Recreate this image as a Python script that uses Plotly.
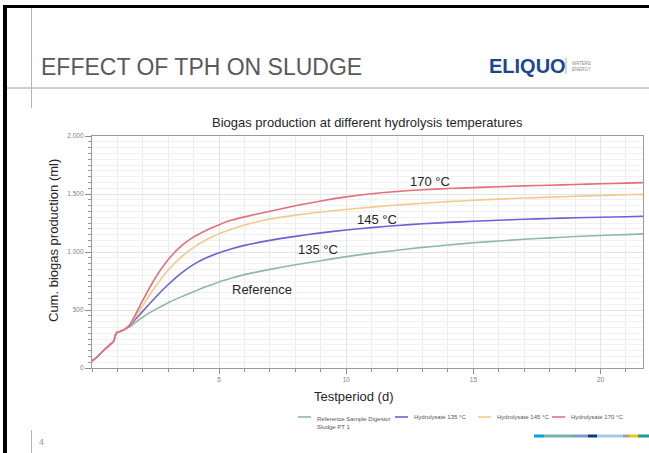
import plotly.graph_objects as go

# ---------------- data ----------------
days = [0, 0.15, 0.4, 0.7, 0.85, 0.95, 1.1, 1.3, 1.5, 2, 2.5, 3, 3.5, 4, 4.5, 5, 5.5, 6,
        7, 8, 9, 10, 11, 12, 13, 14, 15, 16, 17, 18, 19, 20, 21, 21.7]
early = [60, 85, 140, 200, 230, 300, 315, 335]
reference = early + [358, 440, 505, 563, 613, 658, 702, 742, 775, 805,
                     850, 890, 925, 960, 990, 1015, 1040, 1060, 1080, 1095, 1110, 1122, 1133, 1142, 1150, 1157]
hyd135 = early + [370, 490, 610, 720, 815, 893, 950, 993, 1028, 1057,
                  1100, 1135, 1165, 1190, 1210, 1228, 1243, 1255, 1265, 1274, 1282, 1289, 1295, 1300, 1304, 1308]
hyd145 = early + [375, 540, 705, 845, 955, 1040, 1105, 1157, 1198, 1233,
                  1284, 1318, 1345, 1367, 1387, 1405, 1420, 1434, 1446, 1456, 1465, 1473, 1480, 1487, 1493, 1497]
hyd170 = early + [378, 585, 780, 935, 1050, 1130, 1188, 1235, 1275, 1303,
                  1352, 1398, 1440, 1475, 1502, 1522, 1537, 1547, 1555, 1563, 1570, 1576, 1582, 1588, 1594, 1598]

series_names = ["Reference Sample Digestor<br>Sludge PT 1", "Hydrolysate 135 °C",
                "Hydrolysate 145 °C", "Hydrolysate 170 °C"]
series_values = [reference, hyd135, hyd145, hyd170]
series_colors = ["#8dbaa5", "#6b62d8", "#f5c98a", "#e26f7b"]

curve_labels = ["Reference", "135 °C", "145 °C", "170 °C"]
curve_label_x = [6.7, 8.9, 11.2, 13.3]
curve_label_y = [676, 1023, 1278, 1611]

x_ticks = [5, 10, 15, 20]
y_ticks = [0, 500, 1000, 1500, 2000]

# ---------------- geometry helpers ----------------
W, H = 649, 453
L, R, T, B = 92, 643, 136, 368


def px(x):
    return (x - L) / (R - L)


def py(y):
    return (B - y) / (B - T)


fig = go.Figure()
for name, vals, col in zip(series_names, series_values, series_colors):
    fig.add_trace(go.Scatter(x=days, y=vals, mode="lines", name=name,
                             line=dict(color=col, width=1.6, shape="spline", smoothing=0.6),
                             showlegend=False))

ann = []
for t, x, y in zip(curve_labels, curve_label_x, curve_label_y):
    ann.append(dict(x=x, y=y, xref="x", yref="y", text=t, showarrow=False,
                    font=dict(size=13, color="#262626", family="Liberation Sans, Arial")))

# slide title
ann.append(dict(x=px(39), y=py(67), xref="paper", yref="paper", xanchor="left", yanchor="middle",
                text="EFFECT OF TPH ON SLUDGE", showarrow=False,
                font=dict(size=23, color="#595959", family="Liberation Sans, Arial")))
# logo
ann.append(dict(x=px(487), y=py(66), xref="paper", yref="paper", xanchor="left", yanchor="middle",
                text="<b>ELIQUO</b>", showarrow=False,
                font=dict(size=20, color="#1d4690", family="Liberation Sans, Arial")))
ann.append(dict(x=px(570), y=py(66), xref="paper", yref="paper", xanchor="left", yanchor="middle",
                text="WATER&<br>ENERGY", showarrow=False, align="left",
                font=dict(size=4.5, color="#8a8a8a", family="Liberation Sans, Arial")))
# chart title
ann.append(dict(x=px(367), y=py(122), xref="paper", yref="paper", xanchor="center", yanchor="middle",
                text="Biogas production at different hydrolysis temperatures", showarrow=False,
                font=dict(size=13, color="#262626", family="Liberation Sans, Arial")))
# axis titles
ann.append(dict(x=px(53), y=py(241), xref="paper", yref="paper", xanchor="center", yanchor="middle",
                text="Cum. biogas production (ml)", textangle=-90, showarrow=False,
                font=dict(size=13, color="#262626", family="Liberation Sans, Arial")))
ann.append(dict(x=px(353), y=py(396), xref="paper", yref="paper", xanchor="center", yanchor="middle",
                text="Testperiod (d)", showarrow=False,
                font=dict(size=13, color="#262626", family="Liberation Sans, Arial")))
# page number
ann.append(dict(x=px(37), y=py(442), xref="paper", yref="paper", xanchor="left", yanchor="middle",
                text="4", showarrow=False,
                font=dict(size=9, color="#999999", family="Liberation Sans, Arial")))

shapes = []
# slide frame lines
shapes.append(dict(type="rect", xref="paper", yref="paper", x0=px(3), x1=px(7), y0=py(453), y1=py(5),
                   fillcolor="#000000", line=dict(width=0), layer="above"))
shapes.append(dict(type="rect", xref="paper", yref="paper", x0=px(3), x1=px(649), y0=py(8), y1=py(5),
                   fillcolor="#000000", line=dict(width=0), layer="above"))
shapes.append(dict(type="line", xref="paper", yref="paper", x0=px(7), x1=px(649), y0=py(88), y1=py(88),
                   line=dict(color="#a0a0a0", width=1)))
shapes.append(dict(type="line", xref="paper", yref="paper", x0=px(31.5), x1=px(31.5), y0=py(8), y1=py(108),
                   line=dict(color="#b4b4b4", width=1)))
shapes.append(dict(type="line", xref="paper", yref="paper", x0=px(31.5), x1=px(31.5), y0=py(430), y1=py(453),
                   line=dict(color="#b4b4b4", width=1)))
shapes.append(dict(type="line", xref="paper", yref="paper", x0=px(566), x1=px(566), y0=py(58), y1=py(74),
                   line=dict(color="#b0b0b0", width=1)))

# bottom colour stripe
stripe_x = [534, 544, 572, 588, 597, 623, 629, 638, 649]
stripe_c = ["#00a3e0", "#7ab0b0", "#7b9cc8", "#003b7a", "#a9c9e3", "#a0a0a8", "#f5c400", "#1f9a9a"]
for i, c in enumerate(stripe_c):
    shapes.append(dict(type="rect", xref="paper", yref="paper", x0=px(stripe_x[i]), x1=px(stripe_x[i + 1]),
                       y0=py(437.5), y1=py(434.5), fillcolor=c, line=dict(width=0)))

# manual legend
leg_line_x = [298, 395, 478, 552]
leg_y = 417
for name, col, lx in zip(series_names, series_colors, leg_line_x):
    shapes.append(dict(type="line", xref="paper", yref="paper", x0=px(lx), x1=px(lx + 13),
                       y0=py(leg_y), y1=py(leg_y), line=dict(color=col, width=1.6)))
    two = "<br>" in name
    ann.append(dict(x=px(lx + 17), y=py(leg_y - 3.5 if two else leg_y), xref="paper", yref="paper",
                    xanchor="left", yanchor="top" if two else "middle", align="left",
                    text=name, showarrow=False,
                    font=dict(size=6, color="#555555", family="Liberation Sans, Arial")))

fig.update_layout(
    width=W, height=H,
    margin=dict(l=L, r=W - R, t=T, b=H - B, pad=0),
    paper_bgcolor="white", plot_bgcolor="white",
    separators=",.",
    annotations=ann, shapes=shapes,
    font=dict(family="Liberation Sans, Arial"),
)
fig.update_xaxes(range=[0, 21.67], tickvals=x_ticks, ticks="outside", ticklen=5, tickcolor="#8c8c8c",
                 tickfont=dict(size=6.5, color="#7f7f7f"), showgrid=True, gridcolor="#e4e4e4", gridwidth=1,
                 minor=dict(dtick=1, tick0=0, ticks="outside", ticklen=3, tickcolor="#8c8c8c",
                            showgrid=True, gridcolor="#ececec"),
                 showline=True, linecolor="#9a9a9a", linewidth=1.2, mirror=True, zeroline=False)
fig.update_yaxes(range=[0, 2000], tickvals=y_ticks, tickformat=",", ticks="outside", ticklen=6,
                 tickcolor="#8c8c8c", tickfont=dict(size=6.5, color="#7f7f7f"),
                 showgrid=True, gridcolor="#e4e4e4", gridwidth=1,
                 minor=dict(dtick=50, tick0=0, ticks="outside", ticklen=3, tickcolor="#9a9a9a",
                            showgrid=True, gridcolor="#f1f1f1"),
                 showline=True, linecolor="#9a9a9a", linewidth=1.2, mirror=True, zeroline=False)

fig.write_html("out.html", config={"displayModeBar": False},
               post_script="document.body.style.margin='0px';document.body.style.overflow='hidden';")
